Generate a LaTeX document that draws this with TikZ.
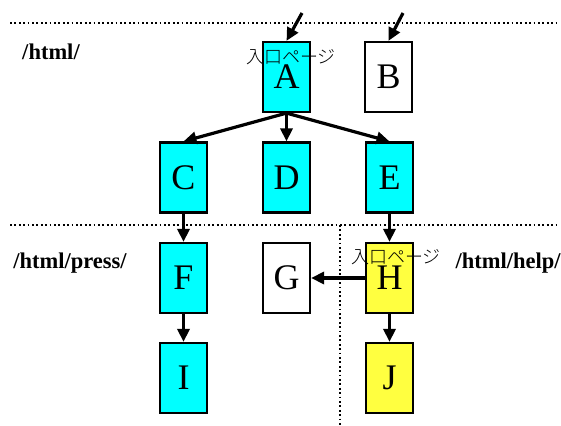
\documentclass[tikz,border=0pt]{standalone}
\usepackage{fontspec}
\setmainfont{Liberation Serif}
\newfontfamily\labelfont{Liberation Serif Bold}
\newfontfamily\jpfont{Noto Sans CJK JP Light}
\usetikzlibrary{arrows.meta}
\definecolor{boxcyan}{RGB}{0,255,255}
\definecolor{boxyellow}{RGB}{255,255,64}
\tikzset{
  page/.style={draw=black, line width=2.2pt, minimum width=47pt, minimum height=70pt, inner sep=0pt, font=\fontsize{36}{36}\selectfont},
  cyanpage/.style={page, fill=boxcyan},
  yellowpage/.style={page, fill=boxyellow},
  whitepage/.style={page, fill=white},
  link/.style={line width=3.2pt, -{Triangle[length=13pt,width=12pt]}},
  sep/.style={line width=1.8pt, dash pattern=on 1.8pt off 2.6pt},
  dirlabel/.style={font=\labelfont\fontsize{22.5}{22.5}\selectfont},
  entry/.style={font=\jpfont\fontsize{18}{18}\selectfont, inner sep=0pt}
}
\begin{document}
\begin{tikzpicture}[x=1pt,y=-1pt]
\useasboundingbox (0,0) rectangle (561,425);
% separators
\draw[sep] (10,23) -- (558,23);
\draw[sep] (10,225) -- (558,225);
\draw[sep] (340,225) -- (340,425);
% pages
\node[cyanpage] (A) at (286.5,77) {A};
\node[whitepage] (B) at (388.5,77) {B};
\node[cyanpage] (C) at (183.5,177.5) {C};
\node[cyanpage] (D) at (286.5,177.5) {D};
\node[cyanpage] (E) at (389.5,177.5) {E};
\node[cyanpage] (F) at (183.5,278) {F};
\node[whitepage] (G) at (286.5,278) {G};
\node[yellowpage] (H) at (389.5,278) {H};
\node[cyanpage] (I) at (183.5,378) {I};
\node[yellowpage] (J) at (389.5,378) {J};
% entry labels
\node[entry] (eA) at (291,57) {入口ページ};
\node[entry] (eH) at (396,257) {入口ページ};
% directory labels
\node[dirlabel] (d1) at (51,52) {/html/};
\node[dirlabel] (d2) at (70,263) {/html/press/};
\node[dirlabel] (d3) at (508,263) {/html/help/};
% incoming
\coordinate (inA) at (302,13);
\coordinate (inB) at (403,13);
\draw[link] (inA) -- (A.north);
\draw[link] (inB) -- (B.north);
% links
\draw[link] (A.south) -- (C.north);
\draw[link] (A.south) -- (D.north);
\draw[link] (A.south) -- (E.north);
\draw[link] (C.south) -- (F.north);
\draw[link] (F.south) -- (I.north);
\draw[link] (E.south) -- (H.north);
\draw[link] (H.south) -- (J.north);
\draw[link] (H.west) -- (G.east);
\end{tikzpicture}
\end{document}
